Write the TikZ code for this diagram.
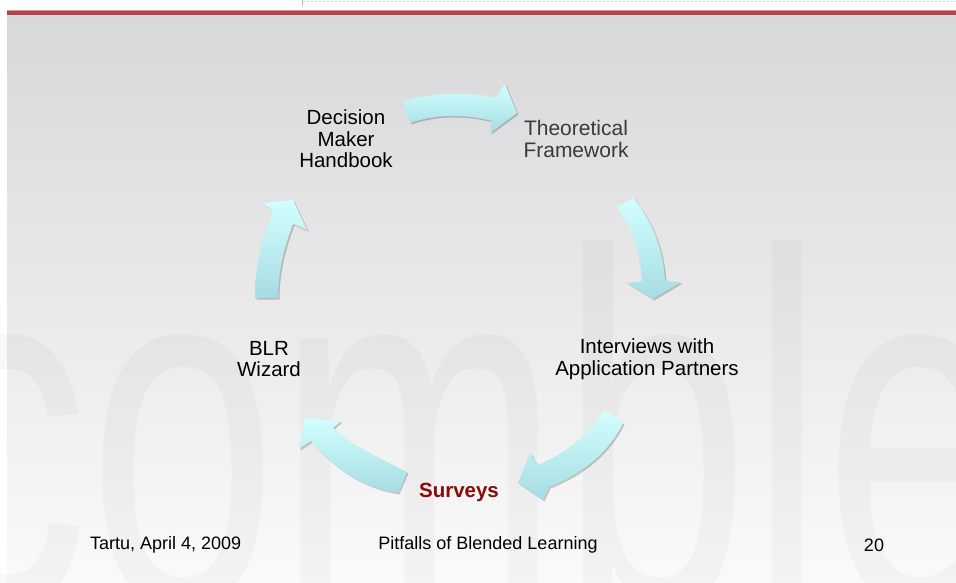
\documentclass[tikz,border=0pt]{standalone}
\usepackage{fontspec}
\setmainfont{Liberation Sans}
\usetikzlibrary{shadows}
\definecolor{bgtop}{HTML}{D8D8DA}
\definecolor{bgbot}{HTML}{FAFAFA}
\definecolor{band}{HTML}{B4434F}
\definecolor{bandlight}{HTML}{D9939A}
\definecolor{arrtop}{HTML}{D2FFFF}
\definecolor{arrbot}{HTML}{A6DCE2}
\definecolor{survey}{HTML}{8B0A0A}
\definecolor{theo}{HTML}{3A3A3A}
\definecolor{dots}{HTML}{C9D9EA}
\begin{document}
\begin{tikzpicture}[x=1pt,y=-1pt,
  lbl/.style={align=center, font=\fontsize{20.5}{21.5}\selectfont, text=black, inner sep=0pt},
  foot/.style={font=\fontsize{18}{20}\selectfont, text=black, inner sep=0pt},
  blockarrow/.style={top color=arrtop, bottom color=arrbot, draw=none,
    drop shadow={shadow xshift=1.5pt, shadow yshift=-1.5pt, opacity=0.2, fill=black}}]
\useasboundingbox (0,0) rectangle (956,583);
\fill[white] (0,0) rectangle (956,583);
% header strip
\draw[dots, line width=1.2pt, dash pattern=on 1.5pt off 2.5pt] (303,1.5) -- (956,1.5);
\draw[dots!70!gray, line width=0.6pt] (302,0) -- (302,6);
\fill[bandlight] (7,10) rectangle (956,16);
\fill[band] (7,11) rectangle (956,15);
% background
\shade[top color=bgtop, bottom color=bgbot] (7,16) rectangle (956,583);
% watermark
\node[anchor=base west, inner sep=0pt, text=black, text opacity=0.028,
  font=\fontsize{340}{340}\selectfont] (wm) at (-82,605) {\scalebox{1}[1.48]{comble}};
% block arrows
\path[blockarrow] (402,102) .. controls (430,92) and (470,92) .. (496,98) -- (505,84) -- (517,113)
  -- (490,133) -- (492,121) .. controls (465,114) and (435,114) .. (410,123) -- cycle;
\path[blockarrow] (617,207) .. controls (630,225) and (640,250) .. (642,281) -- (627,283) -- (653,299)
  -- (681,282) -- (665,281) .. controls (663,245) and (650,218) .. (633,198) -- cycle;
\path[blockarrow] (605,410) .. controls (590,432) and (570,452) .. (537,465) -- (530,453) -- (518,483)
  -- (543,500) -- (549,487) .. controls (585,473) and (610,450) .. (623,423) -- cycle;
\path[blockarrow] (407,472) .. controls (380,458) and (350,445) .. (333,428) -- (341,421) -- (305,418)
  -- (299,449) -- (311,441) .. controls (335,470) and (365,488) .. (398,493) -- cycle;
\path[blockarrow] (255,298) .. controls (255,265) and (262,235) .. (273,211) -- (263,203) -- (293,200)
  -- (307,230) -- (293,224) .. controls (285,245) and (278,270) .. (278,298) -- cycle;
% labels
\node[lbl] (dmh) at (346,139) {Decision\\Maker\\Handbook};
\node[lbl, text=theo, font=\fontsize{21}{21.5}\selectfont] (tf) at (576,139) {Theoretical\\Framework};
\node[lbl] (iap) at (647,359) {Interviews with\\Application Partners};
\node[lbl] (blr) at (269,359) {BLR\\Wizard};
\node[lbl, text=survey, font=\bfseries\fontsize{20.5}{21.5}\selectfont] (sv) at (459,492) {Surveys};
% footer
\node[foot, anchor=west] (date) at (90,545) {Tartu, April 4, 2009};
\node[foot] (title) at (488,545) {Pitfalls of Blended Learning};
\node[foot] (pg) at (874,545) {20};
\end{tikzpicture}
\end{document}
